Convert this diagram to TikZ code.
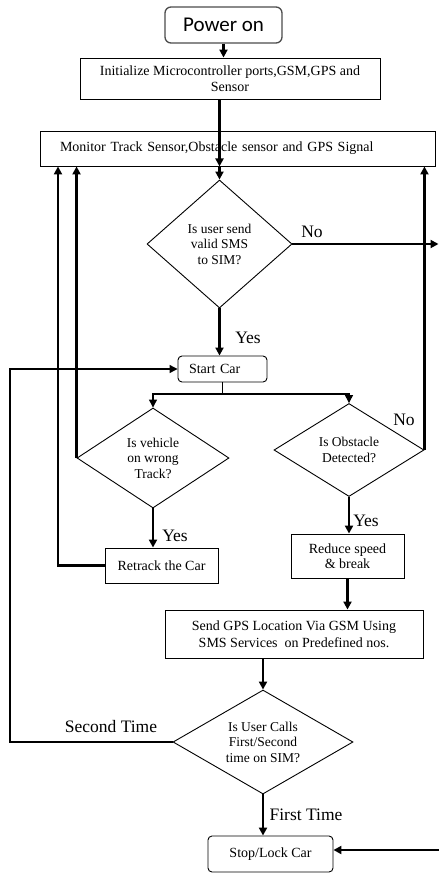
\documentclass[tikz,border=0pt]{standalone}
\usepackage{fontspec}
\setmainfont{Liberation Serif}
\newfontfamily\pwrfont{Carlito}
\usetikzlibrary{shapes.geometric,arrows.meta}
\tikzset{
  box/.style={draw, line width=0.9pt, align=center, inner sep=0pt,
    font=\fontsize{14}{15.5}\selectfont},
  rbox/.style={box, rounded corners=4pt},
  decision/.style={draw, diamond, line width=0.9pt, align=center, inner sep=0pt,
    shape aspect=1.5, font=\fontsize{13.5}{15.5}\selectfont},
  flow/.style={line width=2.2pt, -{Triangle[width=8pt,length=8pt]}},
  flowthin/.style={line width=1.2pt, -{Triangle[width=8pt,length=8pt]}},
  answer/.style={font=\fontsize{17.5}{20}\selectfont, inner sep=0pt},
}
\begin{document}
\begin{tikzpicture}[x=1pt,y=-1pt]
                \useasboundingbox (0,0) rectangle (439,873);
                
                % Placing boxes
                \node [rbox, draw=black!70, line width=1.3pt, rounded corners=6pt,
                  minimum width=117pt, minimum height=36pt, font=\pwrfont\fontsize{21}{24}\selectfont]
                  (pwr) at (223.500000,25.000000) {Power on};%
                \node [box, minimum width=300pt, minimum height=41pt] (init) at (230.000000,78.500000)
                  {Initialize Microcontroller ports,GSM,GPS and\\Sensor};%
                \node [box, minimum width=395pt, minimum height=35pt, text width=355pt, align=left,
                  inner xsep=20pt] (mon) at (237.500000,148.500000)
                  {Monitor Track Sensor,Obstacle sensor and GPS Signal};%
                \node [rbox, minimum width=89pt, minimum height=26pt, text width=67pt, align=left,
                  inner xsep=11pt] (start) at (222.500000,369.000000) {Start Car};%
                \node [box, minimum width=113pt, minimum height=35pt] (ret) at (161.500000,565.500000)
                  {Retrack the Car};%
                \node [box, minimum width=113pt, minimum height=44pt] (red) at (347.500000,556.000000)
                  {Reduce speed\\\&~break};%
                \node [box, minimum width=258pt, minimum height=48pt, font=\fontsize{14}{17}\selectfont]
                  (send) at (294.000000,634.000000)
                  {Send GPS Location Via GSM Using\\SMS Services~ on Predefined nos.};%
                \node [rbox, minimum width=125pt, minimum height=36pt] (stop) at (270.500000,854.000000)
                  {Stop/Lock Car};%
                
                % Placing decisions
                \node [decision, minimum width=145pt, minimum height=128pt] (d1) at (219.500000,244.000000)
                  {Is user send\\valid SMS\\to SIM?};%
                \node [decision, minimum width=152pt, minimum height=100pt] (d2) at (153.000000,458.000000)
                  {Is vehicle\\on wrong\\Track?};%
                \node [decision, minimum width=150pt, minimum height=93pt] (d3) at (349.000000,450.000000)
                  {Is Obstacle\\Detected?};%
                \node [decision, minimum width=180pt, minimum height=104pt] (d4) at (263.000000,742.000000)
                  {Is User Calls\\First/Second\\time on SIM?};%
                
                % Free ends
                \coordinate (noend) at (438.500000,244.000000);%
                \coordinate (stopin) at (439.000000,850.000000);%
                \coordinate (split) at (222.500000,394.000000);%
                \coordinate (rtop) at (58.000000,0.000000);%
                \coordinate (back) at (10.000000,0.000000);%
                
                % Drawing main line
                \draw [flow] (pwr.south) -- (pwr.south |- init.north);%
                \draw [flow] (init.south -| d1.north) -- (mon.south -| d1.north);%
                \draw [flow] (mon.south -| d1.north) -- (d1.north);%
                \draw [flow] (d1.south) -- (d1.south |- start.north);%
                \draw [flow] (d1.east) -- (noend);%
                
                % Drawing split below start
                \draw [line width=1.2pt] (start.south) -- (split);%
                \draw [flowthin] (split) -| (d2.north);%
                \draw [flowthin] (split) -| (d3.north);%
                
                % Drawing loops back to monitor
                \draw [flow] (d2.west) -- (d2.west |- mon.south);%
                \draw [flow] (ret.west) -| (rtop |- mon.south);%
                \draw [flow] (d3.east) -- (d3.east |- mon.south);%
                
                % Drawing yes branches
                \draw [flow] (d2.south) -- (d2.south |- ret.north);%
                \draw [flow] (d3.south) -- (d3.south |- red.north);%
                \draw [flow] (red.south) -- (red.south |- send.north);%
                \draw [flow] (send.south -| d4.north) -- (d4.north);%
                \draw [flow] (d4.south) -- (d4.south |- stop.north);%
                \draw [flow] (stopin) -- (stopin -| stop.east);%
                
                % Drawing second time loop
                \draw [flowthin] (d4.west) -- (d4.west -| back) -- (back |- start.west) -- (start.west);%
                
                % Labels
                \node [answer] (no1) at (312.000000,232.000000) {No};%
                \node [answer] (yes1) at (248.000000,338.000000) {Yes};%
                \node [answer] (no3) at (404.000000,420.000000) {No};%
                \node [answer] (yes2) at (175.000000,536.000000) {Yes};%
                \node [answer] (yes3) at (366.000000,521.000000) {Yes};%
                \node [answer] (sec) at (111.000000,727.000000) {Second Time};%
                \node [answer] (first) at (306.000000,815.000000) {First Time};%
            \end{tikzpicture}
\end{document}
